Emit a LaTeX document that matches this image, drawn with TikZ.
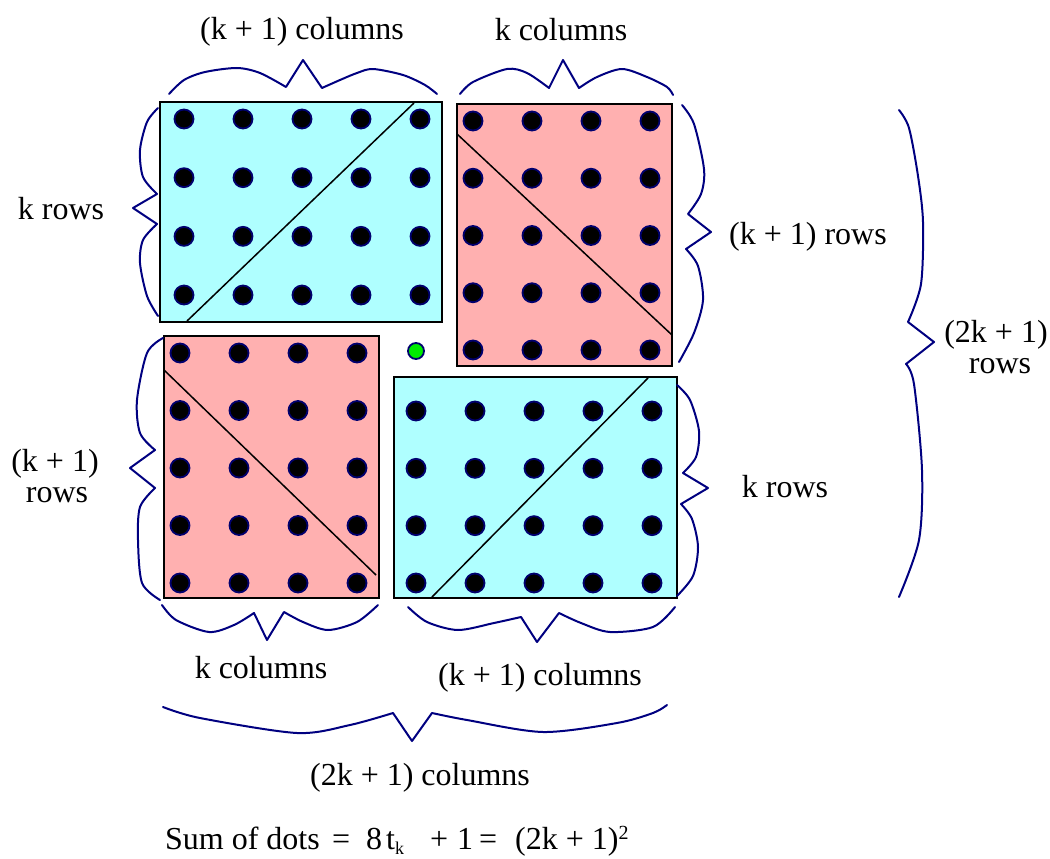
\documentclass[tikz,border=0pt]{standalone}
\usepackage{fontspec}
\setmainfont{Liberation Serif}
\definecolor{cyanfill}{RGB}{175,255,255}
\definecolor{pinkfill}{RGB}{255,176,176}
\definecolor{bracecol}{RGB}{0,0,128}
\definecolor{dotline}{RGB}{0,0,110}
\definecolor{greendot}{RGB}{0,235,0}
\begin{document}
\begin{tikzpicture}[x=1pt,y=-1pt,
  lbl/.style={font=\fontsize{32}{38}\selectfont, inner sep=0pt, anchor=base},
  bracepath/.style={draw=bracecol, line width=2pt, line join=round, line cap=round},
  dotb/.style={fill=black, draw=dotline, line width=1.8pt},
  dotg/.style={fill=greendot, draw=dotline, line width=1.8pt},
  cyanbox/.style={fill=cyanfill, draw=black, line width=2.5pt},
  pinkbox/.style={fill=pinkfill, draw=black, line width=2.5pt},
  diag/.style={draw=black, line width=1.5pt}]
\useasboundingbox (0,0) rectangle (1050,859);

% rectangles
\path[cyanbox] (160,102) rectangle (442,322);
\path[pinkbox] (457,104) rectangle (672,366);
\path[pinkbox] (164,336) rectangle (379,598);
\path[cyanbox] (394,377) rectangle (677,598);

% dots
\foreach \i in {0,...,4} \foreach \j in {0,...,3}
  \path[dotb] ({184+59*\i},{119+58.67*\j}) circle (9.5pt);
\foreach \i in {0,...,3} \foreach \j in {0,...,4}
  \path[dotb] ({473+59*\i},{121+57.25*\j}) circle (9.5pt);
\foreach \i in {0,...,3} \foreach \j in {0,...,4}
  \path[dotb] ({180+59*\i},{353+57.5*\j}) circle (9.5pt);
\foreach \i in {0,...,4} \foreach \j in {0,...,3}
  \path[dotb] ({416+59*\i},{411+57.33*\j}) circle (9.5pt);
\path[dotg] (416,351) circle (8pt);

% diagonals
\draw[diag] (187,321) -- (414,103);
\draw[diag] (457,134) -- (672,335);
\draw[diag] (164,370) -- (376,575);
\draw[diag] (432,597) -- (648,378);

% braces
\draw[bracepath] plot[smooth] coordinates {(169,94) (184,80) (205,72) (237,68) (260,73) (286,87)}
  -- (303,60) -- plot[smooth] coordinates {(322,88) (340,80) (357,73) (373,69) (403,75) (425,85) (437,94)};
\draw[bracepath] plot[smooth] coordinates {(460,94) (473,82) (507,69) (527,73) (549,88)}
  -- (563,60) -- plot[smooth] coordinates {(579,88) (597,77) (622,69) (647,77) (667,87) (673,95)};
\draw[bracepath] plot[smooth] coordinates {(158,108) (147,122) (140,150) (143,177) (157,194)}
  -- (133,208) -- plot[smooth] coordinates {(157,224) (143,240) (140,263) (147,296) (158,316)};
\draw[bracepath] plot[smooth] coordinates {(163,338) (147,353) (137,400) (140,433) (155,450)}
  -- (130,468) -- plot[smooth] coordinates {(155,488) (140,507) (138,540) (142,583) (160,600)};
\draw[bracepath] plot[smooth] coordinates {(682,105) (694,124) (704,169) (701,194) (688,214)}
  -- (711,232) -- plot[smooth] coordinates {(686,249) (698,266) (703,300) (694,333) (679,362)};
\draw[bracepath] plot[smooth] coordinates {(677,385) (690,400) (699,431) (696,457) (683,473)}
  -- (708,488) -- plot[smooth] coordinates {(681,504) (692,519) (698,547) (693,576) (677,596)};
\draw[bracepath] plot[smooth] coordinates {(899,110) (909,128) (918,176) (923,222) (921,284) (908,322)}
  -- (934,342) -- plot[smooth] coordinates {(906,364) (914,384) (922,470) (919,540) (899,597)};
\draw[bracepath] plot[smooth] coordinates {(162,605) (176,620) (209,632) (234,625) (254,613)}
  -- (267,640) -- plot[smooth] coordinates {(284,612) (303,622) (328,630) (357,622) (378,605)};
\draw[bracepath] plot[smooth] coordinates {(408,607) (427,622) (458,630) (494,623) (521,617)}
  -- (537,642) -- plot[smooth] coordinates {(559,613) (581,623) (610,632) (653,627) (675,607)};
\draw[bracepath] plot[smooth] coordinates {(163,707) (200,718) (297,733) (350,725) (393,713)}
  -- (412,741) -- plot[smooth] coordinates {(432,713) (467,720) (543,732) (617,723) (653,713) (667,705)};

% labels
\node[lbl] (topA) at (302,40) {(k + 1) columns};
\node[lbl] (topB) at (561,41) {k columns};
\node[lbl] (leftA) at (61,219) {k rows};
\node[lbl] (leftB1) at (55,471) {(k + 1)};
\node[lbl] (leftB2) at (57,502) {rows};
\node[lbl] (rightA) at (808,244) {(k + 1) rows};
\node[lbl] (rightB) at (785,497) {k rows};
\node[lbl] (rightC1) at (996,342) {(2k + 1)};
\node[lbl] (rightC2) at (1000,373) {rows};
\node[lbl] (botA) at (261,678) {k columns};
\node[lbl] (botB) at (540,685) {(k + 1) columns};
\node[lbl] (botC) at (420,785) {(2k + 1) columns};

% equation
\node[lbl, anchor=base east] (eq1) at (320,849) {Sum of dots};
\node[lbl, anchor=base west] (eq2) at (332,849) {=};
\node[lbl, anchor=base west] (eq3) at (366,849) {8};
\node[lbl, anchor=base west] (eq4) at (386,849) {t\raisebox{-5pt}{\fontsize{18}{20}\selectfont k}};
\node[lbl, anchor=base west] (eq5) at (430,849) {+};
\node[lbl, anchor=base west] (eq6) at (457,849) {1};
\node[lbl, anchor=base west] (eq7) at (479,849) {=};
\node[lbl, anchor=base west] (eq8) at (515,849) {(2k + 1)\raisebox{10pt}{\fontsize{20}{22}\selectfont 2}};
\end{tikzpicture}
\end{document}
